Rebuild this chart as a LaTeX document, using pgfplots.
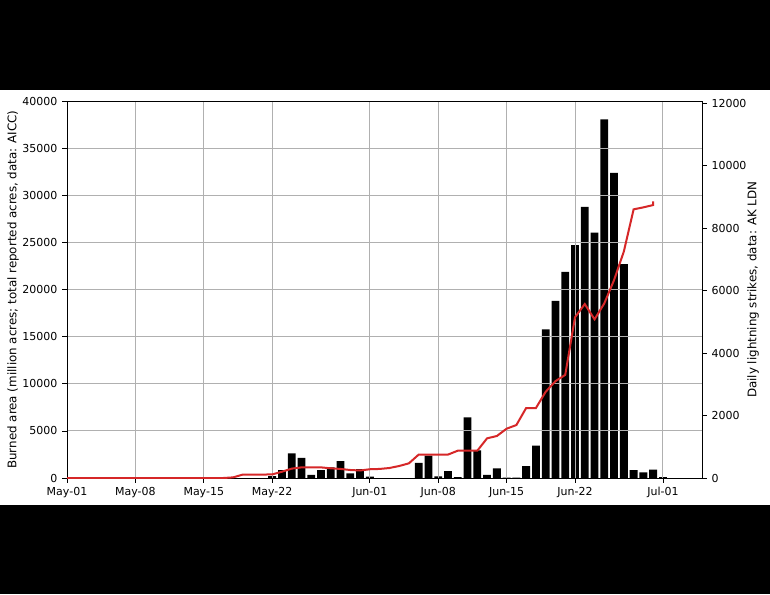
\documentclass[border=0pt]{standalone}
\usepackage{fontspec}
\setmainfont{DejaVu Sans}
\usepackage{pgfplots}
\usepackage{pgfplotstable}
\pgfplotsset{compat=1.18}

\definecolor{linered}{HTML}{D62728}
\definecolor{gridgray}{HTML}{B0B0B0}

% daily burned area (left axis), days counted from May-01
\pgfplotstableread{
day acres
21 200
22 850
23 2620
24 2150
25 320
26 850
27 1130
28 1800
29 500
30 950
31 150
36 1620
37 2370
38 180
39 740
40 100
41 6440
42 2940
43 320
44 1030
45 50
46 50
47 1270
48 3430
49 15780
50 18810
51 21890
52 24720
53 28790
54 26070
55 38090
56 32400
57 22700
58 850
59 600
60 880
61 100
}\bars

% lightning strikes (right axis)
\pgfplotstableread{
day strikes
0 0
1 0
2 0
3 0
4 0
5 0
6 0
7 0
8 0
9 0
10 0
11 0
12 0
13 0
14 0
15 0
16 0
17 20
18 110
19 110
20 110
21 115
22 200
23 300
24 340
25 340
26 340
27 310
28 290
29 256
30 240
31 280
32 290
33 320
34 384
35 470
36 750
37 750
38 750
39 750
40 874
41 874
42 874
43 1270
44 1344
45 1578
46 1696
47 2240
48 2240
49 2760
50 3100
51 3300
52 5142
53 5568
54 5078
55 5590
56 6336
57 7250
58 8598
59 8662
60 8736
60 8850
}\strikes

\begin{document}
\begin{tikzpicture}[x=1pt,y=1pt]
\fill[black] (0,0) rectangle (577.5,445.5);
\fill[white] (0,66.75) rectangle (577.5,378);
\pgfplotsset{
  common/.style={
    at={(50.25pt,87pt)}, anchor=south west,
    scale only axis, width=476.25pt, height=282.5pt,
    xmin=0, xmax=65,
    font=\fontsize{8.25}{10}\selectfont,
    /pgf/number format/assume math mode=true,
    /pgf/number format/1000 sep={},
    scaled y ticks=false,
    tick align=outside, major tick length=3.6pt,
    tick style={black, line width=0.6pt},
    axis line style={black, line width=0.6pt},
  }
}
\begin{axis}[
  common,
  axis on top,
  ybar, bar width=0.8,
  ymin=0, ymax=40000,
  ytick={0,5000,...,40000},
  xtick={0,7,14,21,31,38,45,52,61},
  xticklabels={May-01,May-08,May-15,May-22,Jun-01,Jun-08,Jun-15,Jun-22,Jul-01},
  xtick pos=bottom, ytick pos=left,
  xmajorgrids, ymajorgrids,
  grid style={gridgray, line width=0.7pt},
  ylabel={Burned area (million acres; total reported acres, data: AICC)},
  ylabel style={at={(axis description cs:-0.0850,0.5)}, anchor=center,
    font=\fontsize{8.9}{10}\selectfont},
]
\addplot[fill=black, draw=none] table[x=day, y=acres] {\bars};
\end{axis}
\begin{axis}[
  common,
  axis x line=none,
  axis y line*=right,
  ymin=0, ymax=12055,
  ytick={0,2000,...,12000},
  ylabel={Daily lightning strikes, data: AK LDN},
  ylabel style={at={(axis description cs:1.0803,0.5)}, anchor=center,
    font=\fontsize{8.9}{10}\selectfont},
]
\addplot[linered, line width=1.5pt, mark=none] table[x=day, y=strikes] {\strikes};
\end{axis}
\pgfresetboundingbox
\path[use as bounding box] (0,0) rectangle (577.5,445.5);
\end{tikzpicture}
\end{document}
